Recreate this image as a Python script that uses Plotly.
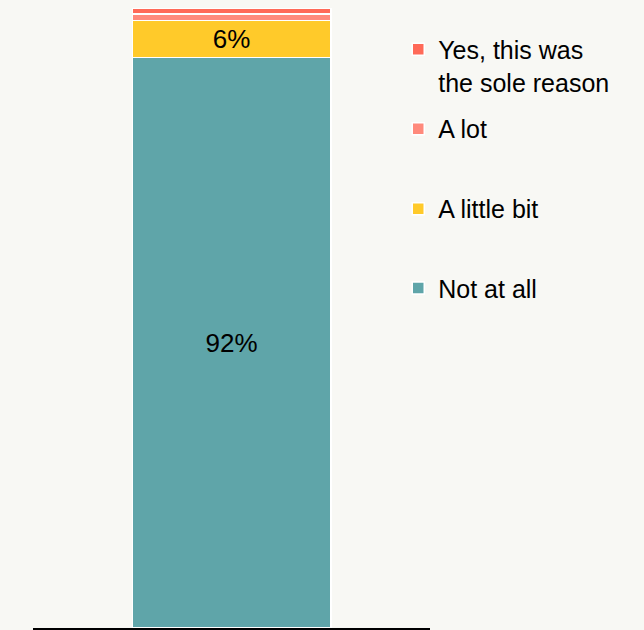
import plotly.graph_objects as go

categories = [""]
series_names = ["Not at all", "A little bit", "A lot", "Yes, this was<br>the sole reason"]
series_values = [[92], [6], [1], [1]]
series_labels = [["92%"], ["6%"], [""], [""]]
colors = ["#5fa5a9", "#ffca2a", "#ff8a7c", "#ff6a58"]

# legend position (paper y) for each series
legend_y = [0.548, 0.676, 0.805, 0.970]

fig = go.Figure()
for i, name in enumerate(series_names):
    leg = "legend" if i == 0 else f"legend{i + 1}"
    fig.add_trace(go.Bar(
        x=categories, y=series_values[i], name=name,
        marker=dict(color=colors[i], line=dict(color="white", width=1.5)),
        text=series_labels[i], textposition="inside", insidetextanchor="middle",
        textfont=dict(color="black", size=26), constraintext="none",
        width=0.5, legend=leg,
    ))

bg = "#f8f8f4"
legends = {}
for i in range(len(series_names)):
    key = "legend" if i == 0 else f"legend{i + 1}"
    legends[key] = dict(
        x=0.92, y=legend_y[i], xanchor="left", yanchor="middle" if i < 3 else "top",
        bgcolor="rgba(0,0,0,0)", font=dict(size=25, color="black"),
        valign="top",
    )

fig.update_layout(
    barmode="stack",
    width=644, height=630,
    margin=dict(l=33, r=214, t=8, b=2),
    paper_bgcolor=bg, plot_bgcolor=bg,
    font=dict(family="Liberation Sans, Arial, sans-serif", color="black"),
    showlegend=True,
    **legends,
)
fig.update_xaxes(showline=True, linecolor="black", linewidth=2, ticks="",
                 showticklabels=False, showgrid=False, range=[-0.5, 0.5])
fig.update_yaxes(visible=False, range=[0, 100], showgrid=False)

fig.write_html(
    "out.html",
    config={"displayModeBar": False},
    post_script="document.body.style.margin='0';document.body.style.background='%s';" % bg,
)
